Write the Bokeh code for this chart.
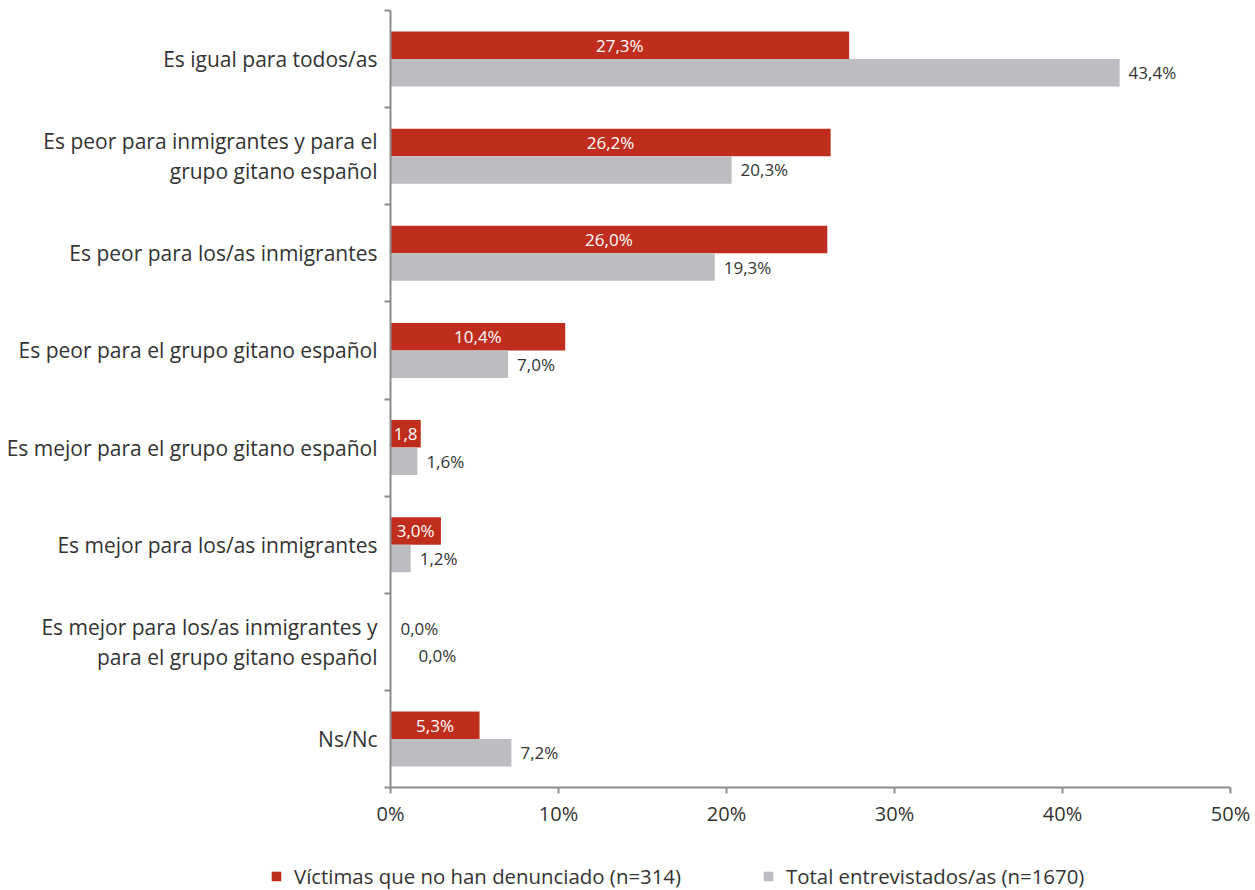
from bokeh.plotting import figure
from bokeh.layouts import column, row
from bokeh.models import ColumnDataSource, Range1d, FixedTicker, Legend, LegendItem
from bokeh.core.properties import value
from bokeh.embed import file_html
from bokeh.resources import INLINE

categories = [
    "Es igual para todos/as",
    "Es peor para inmigrantes y para el\ngrupo gitano español",
    "Es peor para los/as inmigrantes",
    "Es peor para el grupo gitano español",
    "Es mejor para el grupo gitano español",
    "Es mejor para los/as inmigrantes",
    "Es mejor para los/as inmigrantes y\npara el grupo gitano español",
    "Ns/Nc",
]
victimas = [27.3, 26.2, 26.0, 10.4, 1.8, 3.0, 0.0, 5.3]
victimas_labels = ["27,3%", "26,2%", "26,0%", "10,4%", "1,8", "3,0%", "0,0%", "5,3%"]
total = [43.4, 20.3, 19.3, 7.0, 1.6, 1.2, 0.0, 7.2]
total_labels = ["43,4%", "20,3%", "19,3%", "7,0%", "1,6%", "1,2%", "0,0%", "7,2%"]
x_ticks = [0, 10, 20, 30, 40, 50]
x_tick_labels = ["0%", "10%", "20%", "30%", "40%", "50%"]
series_names = ["Víctimas que no han denunciado (n=314)", "Total entrevistados/as (n=1670)"]

RED = "#C12D1C"
GREY = "#BCBDC1"
TXT = "#333333"
AX = "#8C8C8C"
FONT = "Open Sans"
BH = 0.283

n = len(categories)
centers = [i + 0.5 for i in range(n)]

p = figure(width=1250, height=830, output_backend="svg", toolbar_location=None,
           x_range=Range1d(0, 50), y_range=Range1d(n, 0),
           min_border_left=390, min_border_right=20, min_border_top=10, min_border_bottom=43)
p.outline_line_color = None
p.xgrid.visible = False
p.ygrid.visible = False

red_src = ColumnDataSource(dict(y=[c - BH / 2 for c in centers], v=victimas))
grey_src = ColumnDataSource(dict(y=[c + BH / 2 for c in centers], v=total))
p.hbar(y="y", right="v", left=0, height=BH, source=red_src, fill_color=RED, line_color=None)
p.hbar(y="y", right="v", left=0, height=BH, source=grey_src, fill_color=GREY, line_color=None)

rl_x, rl_off, rl_col, rl_align = [], [], [], []
for v in victimas:
    if v > 0:
        rl_x.append(v / 2); rl_off.append(0); rl_col.append("white"); rl_align.append("center")
    else:
        rl_x.append(v); rl_off.append(10); rl_col.append(TXT); rl_align.append("left")
p.text(x=rl_x, y=[c - BH / 2 for c in centers], text=victimas_labels, x_offset=rl_off,
       text_color=rl_col, text_align=rl_align, text_baseline="middle",
       text_font=value(FONT), text_font_size="17px")

gl_off = [28 if v == 0 else 9 for v in total]
p.text(x=total, y=[c + BH / 2 for c in centers], text=total_labels, x_offset=gl_off,
       text_color=TXT, text_align="left", text_baseline="middle",
       text_font=value(FONT), text_font_size="17px")

xa = p.xaxis[0]
xa.ticker = FixedTicker(ticks=x_ticks)
xa.major_label_overrides = {t: l for t, l in zip(x_ticks, x_tick_labels)}
xa.axis_line_color = AX
xa.axis_line_width = 2
xa.major_tick_line_color = AX
xa.major_tick_line_width = 2
xa.major_tick_out = 6
xa.major_tick_in = 0
xa.minor_tick_line_color = None
xa.major_label_text_font = FONT
xa.major_label_text_font_size = "20px"
xa.major_label_text_color = TXT
xa.major_label_standoff = 6

ya = p.yaxis[0]
ya.ticker = FixedTicker(ticks=centers, minor_ticks=list(range(n + 1)))
ya.major_label_overrides = {c: l for c, l in zip(centers, categories)}
ya.axis_line_color = AX
ya.axis_line_width = 2
ya.major_tick_line_color = None
ya.major_tick_out = 6
ya.minor_tick_line_color = AX
ya.minor_tick_line_width = 2
ya.minor_tick_out = 6
ya.minor_tick_in = 0
ya.major_label_text_font = FONT
ya.major_label_text_font_size = "21px"
ya.major_label_text_color = TXT
ya.major_label_text_line_height = 1.05
ya.major_label_standoff = 7

# legend strip below the chart
lg = figure(width=1250, height=60, output_backend="svg", toolbar_location=None,
            x_axis_location=None, y_axis_location=None,
            x_range=Range1d(0, 50), y_range=Range1d(n, 0),
            min_border_left=0, min_border_right=0, min_border_top=0, min_border_bottom=0)
lg.outline_line_color = None
lg.xgrid.visible = False
lg.ygrid.visible = False
d1 = lg.hbar(y="y", right="v", left=0, height=BH, source=red_src, fill_color=RED,
             line_color=None, visible=False)
d2 = lg.hbar(y="y", right="v", left=0, height=BH, source=grey_src, fill_color=GREY,
             line_color=None, visible=False)
legend = Legend(items=[LegendItem(label=series_names[0], renderers=[d1]),
                       LegendItem(label=series_names[1], renderers=[d2])],
                orientation="horizontal", location=(270, 0),
                glyph_width=12, glyph_height=12, label_standoff=12, spacing=81,
                padding=0, margin=0, border_line_color=None, background_fill_alpha=0,
                label_text_font=FONT, label_text_font_size="20.4px", label_text_color=TXT)
lg.add_layout(legend, "center")

open("out.html", "w").write(file_html(column(p, row(lg), spacing=0), INLINE))
